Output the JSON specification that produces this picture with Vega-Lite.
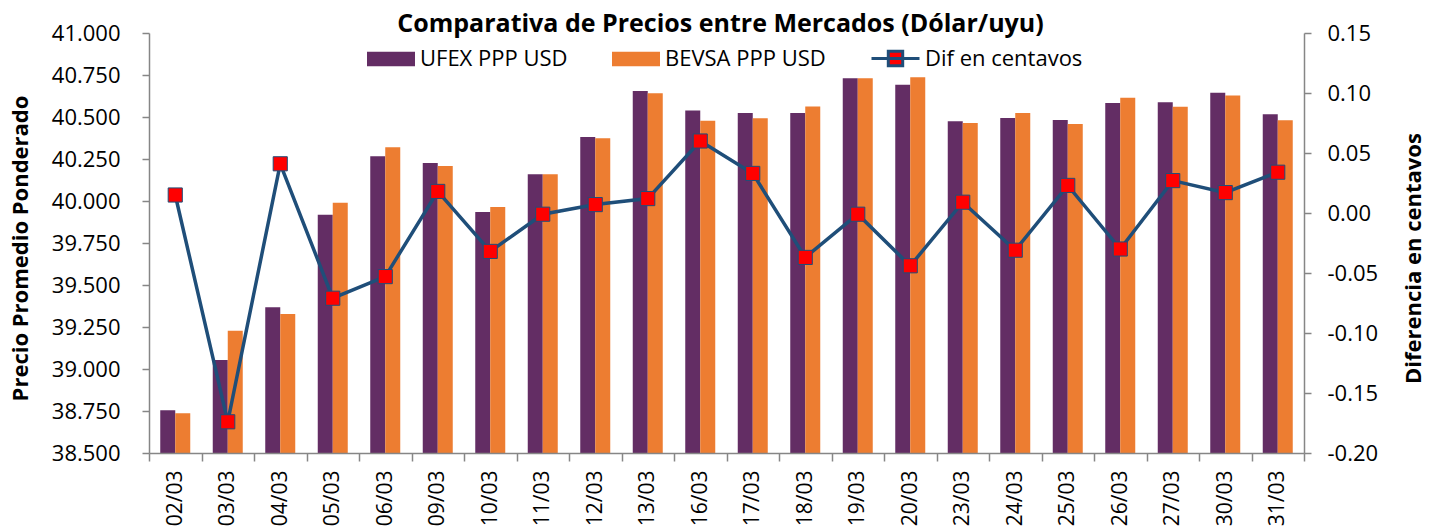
{
  "$schema": "https://vega.github.io/schema/vega-lite/v6.json",
  "autosize": {"type": "none"},
  "padding": {"left": 149, "top": 33, "right": 134, "bottom": 78},
  "width": 1155,
  "height": 420,
  "background": "white",
  "title": {
    "text": "Comparativa de Precios entre Mercados (Dólar/uyu)",
    "font": "Open Sans",
    "fontSize": 25,
    "fontWeight": "bold",
    "color": "black",
    "anchor": "middle",
    "frame": "group",
    "offset": -15,
    "dx": -6
  },
  "datasets": {
    "precios": [
      {"fecha": "02/03", "serie": "UFEX PPP USD", "valor": 38.754}, {"fecha": "02/03", "serie": "BEVSA PPP USD", "valor": 38.737},
      {"fecha": "03/03", "serie": "UFEX PPP USD", "valor": 39.054}, {"fecha": "03/03", "serie": "BEVSA PPP USD", "valor": 39.227},
      {"fecha": "04/03", "serie": "UFEX PPP USD", "valor": 39.367}, {"fecha": "04/03", "serie": "BEVSA PPP USD", "valor": 39.327},
      {"fecha": "05/03", "serie": "UFEX PPP USD", "valor": 39.918}, {"fecha": "05/03", "serie": "BEVSA PPP USD", "valor": 39.990},
      {"fecha": "06/03", "serie": "UFEX PPP USD", "valor": 40.266}, {"fecha": "06/03", "serie": "BEVSA PPP USD", "valor": 40.320},
      {"fecha": "09/03", "serie": "UFEX PPP USD", "valor": 40.226}, {"fecha": "09/03", "serie": "BEVSA PPP USD", "valor": 40.208},
      {"fecha": "10/03", "serie": "UFEX PPP USD", "valor": 39.935}, {"fecha": "10/03", "serie": "BEVSA PPP USD", "valor": 39.965},
      {"fecha": "11/03", "serie": "UFEX PPP USD", "valor": 40.159}, {"fecha": "11/03", "serie": "BEVSA PPP USD", "valor": 40.159},
      {"fecha": "12/03", "serie": "UFEX PPP USD", "valor": 40.381}, {"fecha": "12/03", "serie": "BEVSA PPP USD", "valor": 40.373},
      {"fecha": "13/03", "serie": "UFEX PPP USD", "valor": 40.655}, {"fecha": "13/03", "serie": "BEVSA PPP USD", "valor": 40.641},
      {"fecha": "16/03", "serie": "UFEX PPP USD", "valor": 40.538}, {"fecha": "16/03", "serie": "BEVSA PPP USD", "valor": 40.478},
      {"fecha": "17/03", "serie": "UFEX PPP USD", "valor": 40.524}, {"fecha": "17/03", "serie": "BEVSA PPP USD", "valor": 40.493},
      {"fecha": "18/03", "serie": "UFEX PPP USD", "valor": 40.524}, {"fecha": "18/03", "serie": "BEVSA PPP USD", "valor": 40.562},
      {"fecha": "19/03", "serie": "UFEX PPP USD", "valor": 40.730}, {"fecha": "19/03", "serie": "BEVSA PPP USD", "valor": 40.730},
      {"fecha": "20/03", "serie": "UFEX PPP USD", "valor": 40.692}, {"fecha": "20/03", "serie": "BEVSA PPP USD", "valor": 40.736},
      {"fecha": "23/03", "serie": "UFEX PPP USD", "valor": 40.474}, {"fecha": "23/03", "serie": "BEVSA PPP USD", "valor": 40.465},
      {"fecha": "24/03", "serie": "UFEX PPP USD", "valor": 40.494}, {"fecha": "24/03", "serie": "BEVSA PPP USD", "valor": 40.524},
      {"fecha": "25/03", "serie": "UFEX PPP USD", "valor": 40.482}, {"fecha": "25/03", "serie": "BEVSA PPP USD", "valor": 40.458},
      {"fecha": "26/03", "serie": "UFEX PPP USD", "valor": 40.584}, {"fecha": "26/03", "serie": "BEVSA PPP USD", "valor": 40.615},
      {"fecha": "27/03", "serie": "UFEX PPP USD", "valor": 40.588}, {"fecha": "27/03", "serie": "BEVSA PPP USD", "valor": 40.561},
      {"fecha": "30/03", "serie": "UFEX PPP USD", "valor": 40.645}, {"fecha": "30/03", "serie": "BEVSA PPP USD", "valor": 40.628},
      {"fecha": "31/03", "serie": "UFEX PPP USD", "valor": 40.516}, {"fecha": "31/03", "serie": "BEVSA PPP USD", "valor": 40.481}
    ],
    "dif": [
      {"fecha": "02/03", "serie": "Dif en centavos", "dif": 0.015},
      {"fecha": "03/03", "serie": "Dif en centavos", "dif": -0.174},
      {"fecha": "04/03", "serie": "Dif en centavos", "dif": 0.041},
      {"fecha": "05/03", "serie": "Dif en centavos", "dif": -0.071},
      {"fecha": "06/03", "serie": "Dif en centavos", "dif": -0.053},
      {"fecha": "09/03", "serie": "Dif en centavos", "dif": 0.018},
      {"fecha": "10/03", "serie": "Dif en centavos", "dif": -0.032},
      {"fecha": "11/03", "serie": "Dif en centavos", "dif": -0.001},
      {"fecha": "12/03", "serie": "Dif en centavos", "dif": 0.007},
      {"fecha": "13/03", "serie": "Dif en centavos", "dif": 0.012},
      {"fecha": "16/03", "serie": "Dif en centavos", "dif": 0.060},
      {"fecha": "17/03", "serie": "Dif en centavos", "dif": 0.033},
      {"fecha": "18/03", "serie": "Dif en centavos", "dif": -0.037},
      {"fecha": "19/03", "serie": "Dif en centavos", "dif": -0.001},
      {"fecha": "20/03", "serie": "Dif en centavos", "dif": -0.044},
      {"fecha": "23/03", "serie": "Dif en centavos", "dif": 0.009},
      {"fecha": "24/03", "serie": "Dif en centavos", "dif": -0.031},
      {"fecha": "25/03", "serie": "Dif en centavos", "dif": 0.023},
      {"fecha": "26/03", "serie": "Dif en centavos", "dif": -0.030},
      {"fecha": "27/03", "serie": "Dif en centavos", "dif": 0.027},
      {"fecha": "30/03", "serie": "Dif en centavos", "dif": 0.017},
      {"fecha": "31/03", "serie": "Dif en centavos", "dif": 0.034}
    ]
  },
  "encoding": {
    "x": {
      "field": "fecha",
      "type": "nominal",
      "sort": null,
      "scale": {"paddingInner": 0, "paddingOuter": 0},
      "axis": {
        "title": null,
        "labelAngle": -90,
        "labelFontSize": 21,
        "labelColor": "black",
        "labelPadding": 9,
        "tickBand": "extent",
        "tickSize": 8,
        "tickColor": "#868686",
        "domainColor": "#868686",
        "domainWidth": 1.5,
        "tickWidth": 1.5,
        "zindex": 1
      }
    }
  },
  "layer": [
    {
      "data": {"name": "precios"},
      "mark": {"type": "bar", "clip": true},
      "encoding": {
        "xOffset": {
          "field": "serie",
          "type": "nominal",
          "scale": {"domain": ["UFEX PPP USD", "BEVSA PPP USD"], "paddingInner": 0, "paddingOuter": 0.75}
        },
        "y": {
          "field": "valor",
          "type": "quantitative",
          "scale": {"domain": [38.5, 41], "zero": false, "nice": false},
          "axis": {
            "title": "Precio Promedio Ponderado",
            "titleFontSize": 22,
            "titleFontWeight": "bold",
            "titleColor": "black",
            "titlePadding": 19,
            "titleY": 215,
            "values": [38.5, 38.75, 39, 39.25, 39.5, 39.75, 40, 40.25, 40.5, 40.75, 41],
            "format": ".3f",
            "labelFontSize": 22,
            "labelColor": "black",
            "labelPadding": 22,
            "tickSize": 7,
            "tickColor": "#868686",
            "domainColor": "#868686",
            "domainWidth": 1.5,
            "tickWidth": 1.5,
            "grid": false,
            "zindex": 1
          }
        },
        "color": {
          "field": "serie",
          "type": "nominal",
          "scale": {"domain": ["UFEX PPP USD", "BEVSA PPP USD"], "range": ["#632D64", "#ED7D31"]},
          "legend": {
            "title": null,
            "orient": "none",
            "direction": "horizontal",
            "legendX": 218,
            "legendY": 2,
            "padding": 0,
            "symbolType": "M-1,-0.3H1V0.3H-1Z",
            "symbolSize": 2304,
            "symbolStrokeWidth": 0,
            "labelFontSize": 22,
            "labelColor": "black",
            "labelOffset": 5,
            "labelLimit": 400,
            "columnPadding": 44
          }
        }
      }
    },
    {
      "data": {"name": "dif"},
      "layer": [
        {
          "mark": {"type": "line", "strokeWidth": 3.5},
          "encoding": {
            "y": {
              "field": "dif",
              "type": "quantitative",
              "scale": {"domain": [-0.2, 0.15], "nice": false},
              "axis": {
                "orient": "right",
                "title": "Diferencia en centavos",
                "titleFontSize": 22,
                "titleFontWeight": "bold",
                "titleColor": "black",
                "titleAngle": -90,
                "titlePadding": 48,
                "titleY": 225,
                "values": [-0.2, -0.15, -0.1, -0.05, 0, 0.05, 0.1, 0.15],
                "format": ".2f",
                "labelExpr": "replace(datum.label, '−', '-')",
                "labelFontSize": 22,
                "labelColor": "black",
                "labelPadding": 16,
                "tickSize": 7,
                "tickColor": "#868686",
                "domainColor": "#868686",
                "domainWidth": 1.5,
                "tickWidth": 1.5,
                "grid": false
              }
            },
            "stroke": {
              "field": "serie",
              "type": "nominal",
              "scale": {"range": ["#1F4E79"]},
              "legend": {
                "title": null,
                "orient": "none",
                "legendX": 721,
                "legendY": 0,
                "padding": 0,
                "symbolType": "M-1,0H1M-0.3,-0.3H0.3V0.3H-0.3Z",
                "symbolSize": 2304,
                "symbolFillColor": "#FF0000",
                "symbolStrokeWidth": 3,
                "labelFontSize": 22,
                "labelColor": "black",
                "labelOffset": 4,
                "labelLimit": 400
              }
            }
          }
        },
        {
          "mark": {"type": "point", "shape": "square", "filled": true, "fill": "#FF0000", "stroke": "#1F4E79", "strokeWidth": 1, "size": 200, "opacity": 1},
          "encoding": {
            "y": {"field": "dif", "type": "quantitative"}
          }
        }
      ]
    }
  ],
  "resolve": {"scale": {"y": "independent", "color": "independent"}},
  "config": {
    "font": "Open Sans",
    "view": {"stroke": null},
    "axis": {"grid": false}
  }
}
